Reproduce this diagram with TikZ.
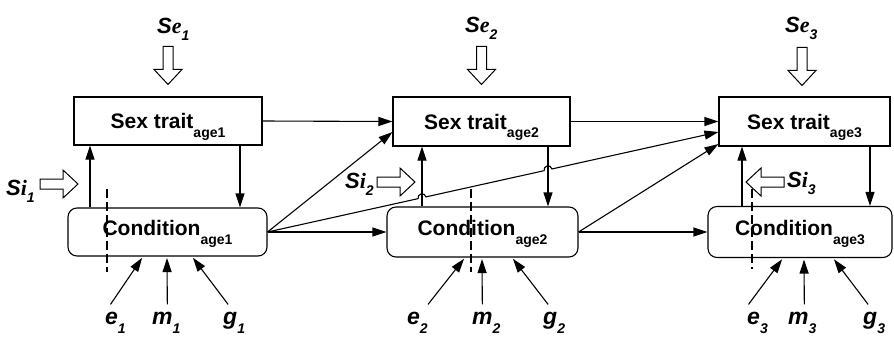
\documentclass[tikz,border=0pt]{standalone}
\usepackage{fontspec}
\setmainfont{Liberation Sans}
\newfontfamily\serifbi{Liberation Serif}
\usetikzlibrary{arrows.meta,calc}

\newcommand{\boxsub}[1]{\raisebox{-8.5pt}{\fontsize{14}{14}\selectfont #1}}
\newcommand{\vsub}[2][8pt]{\raisebox{-#1}{\fontsize{14}{14}\selectfont\bfseries\itshape #2}}
\newcommand{\Sx}[2]{S{\serifbi\bfseries\itshape #1}\vsub[7pt]{#2}}

\tikzset{
  arr/.style={-{Triangle[length=14pt,width=9pt]}, line width=1.1pt},
  trait/.style={draw, line width=1.1pt, inner sep=0pt, text height=15pt, text depth=0pt,
    font=\fontsize{21}{25}\selectfont\bfseries},
  cond/.style={trait, rounded corners=9pt, text depth=8pt},
  slab/.style={inner sep=0pt, anchor=base west, font=\fontsize{22}{26}\selectfont\bfseries\itshape},
  vlab/.style={inner sep=0pt, anchor=base west, font=\fontsize{23}{27}\selectfont\bfseries\itshape},
  cut/.style={line width=1.6pt, dash pattern=on 9pt off 4pt},
  fatarr/.pic={\draw[line width=1pt, fill=white] (0,5) -- (23,5) -- (23,14) -- (38,0)
    -- (23,-14) -- (23,-5) -- (0,-5) -- cycle;}
}

\begin{document}
\begin{tikzpicture}[x=1pt, y=1pt]
\useasboundingbox (0,0) rectangle (894,-338);

% boxes
\node[trait, minimum width=188pt, minimum height=48pt] (s1) at (168,-121) {Sex trait\boxsub{age1}};
\node[trait, minimum width=177pt, minimum height=49pt] (s2) at (481.5,-121.5) {Sex trait\boxsub{age2}};
\node[trait, minimum width=171pt, minimum height=49pt] (s3) at (804.5,-121.5) {Sex trait\boxsub{age3}};
\node[cond, minimum width=199pt, minimum height=48pt] (c1) at (167.5,-232) {Condition\boxsub{age1}};
\node[cond, minimum width=191pt, minimum height=50pt] (c2) at (482.5,-232) {Condition\boxsub{age2}};
\node[cond, minimum width=184pt, minimum height=51pt] (c3) at (800,-232) {Condition\boxsub{age3}};

% selection labels and fat arrows
\node[slab] (se1) at (157,-33) {\Sx{e}{1}};
\node[slab] (se2) at (465,-32) {\Sx{e}{2}};
\node[slab] (se3) at (785,-32) {\Sx{e}{3}};
\pic[rotate=-90] at ([yshift=50pt]s1.north) {fatarr};
\pic[rotate=-90] at ([yshift=50pt]s2.north) {fatarr};
\pic[rotate=-90] at ([yshift=49pt]s3.north -| 802,0) {fatarr};
\node[slab] (si1) at (6,-195) {\Sx{i}{1}};
\node[slab] (si2) at (345,-188) {\Sx{i}{2}};
\node[slab] (si3) at (787,-187) {\Sx{i}{3}};
\pic at (40,-184) {fatarr};
\pic at (377,-182) {fatarr};
\pic[rotate=180] at (784,-182) {fatarr};

% within one age
\draw[arr] ([xshift=-77.5pt]c1.north) -- ([xshift=-77.5pt]c1.north |- s1.south);
\draw[arr] ([xshift=72pt]s1.south) -- ([xshift=72pt]s1.south |- c1.north);
\coordinate (u2a) at ([xshift=-60.5pt]c2.north);
\coordinate (u2b) at (u2a |- s2.south);
\coordinate (d2a) at ([xshift=66.5pt]s2.south);
\coordinate (d2b) at (d2a |- c2.north);
\draw[arr] (u2a) -- (u2b);
\draw[arr] (d2a) -- (d2b);
\draw[arr] ([xshift=-58pt]c3.north) -- ([xshift=-58pt]c3.north |- s3.south);
\draw[arr] ([xshift=65.5pt]s3.south) -- ([xshift=65.5pt]s3.south |- c3.north);

\draw[cut] ([xshift=-60.5pt,yshift=18pt]c1.north) -- ++(0,-83);
\draw[cut] ([xshift=-11.5pt,yshift=17pt]c2.north) -- ++(0,-83);
\draw[cut] ([xshift=-48pt,yshift=16.5pt]c3.north) -- ++(0,-80);

% between ages
\draw[arr] (s1.east) -- (s2.west);
\draw[arr] (c1.east) -- ([yshift=-10.5pt]s2.west);
\draw[arr] (c1.east) -- (c2.west);
\draw[arr] (s2.east) -- (s3.west);
\draw[arr] (c2.east) -- ([yshift=2.5pt]s3.south west);
\draw[arr] (c2.east) -- (c3.west);
\coordinate (la) at (c1.east);
\coordinate (lb) at ([yshift=-10.5pt]s3.west);
\coordinate (h1) at (intersection of la--lb and u2a--u2b);
\coordinate (h2) at (intersection of la--lb and d2a--d2b);
\draw[arr] let \p1=($(lb)-(la)$), \n1={atan2(\y1,\x1)} in
  (la) -- ($(h1)!4pt!(la)$) arc[start angle=\n1+180, end angle=\n1, radius=4pt]
  -- ($(h2)!4pt!(la)$) arc[start angle=\n1+180, end angle=\n1, radius=4pt] -- (lb);

% environment, maternal and genetic effects
\node[vlab] (e1) at (105,-324) {e\vsub[9pt]{1}};
\node[vlab] (m1) at (152,-324) {m\vsub[9pt]{1}};
\node[vlab] (g1) at (223,-324) {g\vsub[9pt]{1}};
\node[vlab] (e2) at (407,-324) {e\vsub[9pt]{2}};
\node[vlab] (m2) at (472,-324) {m\vsub[9pt]{2}};
\node[vlab] (g2) at (543,-324) {g\vsub[9pt]{2}};
\node[vlab] (e3) at (747,-324) {e\vsub[9pt]{3}};
\node[vlab] (m3) at (788,-324) {m\vsub[9pt]{3}};
\node[vlab] (g3) at (863,-324) {g\vsub[9pt]{3}};
\draw[arr, shorten >=1.5pt] ([xshift=-5pt,yshift=7pt]e1.north) -- ([xshift=-24.5pt]c1.south);
\draw[arr, shorten >=1.5pt] ([xshift=1pt,yshift=7pt]m1.north) -- ([xshift=-0.5pt]c1.south);
\draw[arr, shorten >=1.5pt] ([xshift=-6pt,yshift=7pt]g1.north) -- ([xshift=24.5pt]c1.south);
\draw[arr, shorten >=1.5pt] ([xshift=10.5pt,yshift=7pt]e2.north) -- ([xshift=-17.5pt]c2.south);
\draw[arr, shorten >=1.5pt] ([xshift=-4pt,yshift=7pt]m2.north) -- ([xshift=-0.5pt]c2.south);
\draw[arr, shorten >=1.5pt] ([xshift=-6pt,yshift=7pt]g2.north) -- ([xshift=29.5pt]c2.south);
\draw[arr, shorten >=1.5pt] ([xshift=-9pt,yshift=7pt]e3.north) -- ([xshift=-17pt]c3.south);
\draw[arr, shorten >=1.5pt] ([xshift=2pt,yshift=7pt]m3.north) -- ([xshift=4pt]c3.south);
\draw[arr, shorten >=1.5pt] ([xshift=-6pt,yshift=7pt]g3.north) -- ([xshift=33pt]c3.south);
\end{tikzpicture}
\end{document}
